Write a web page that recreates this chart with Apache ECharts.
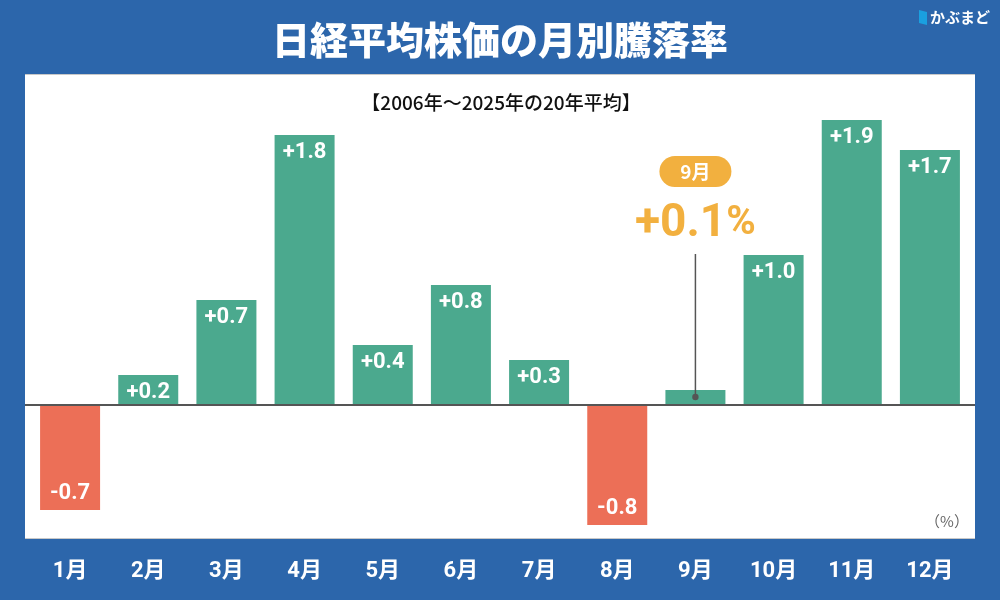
<!DOCTYPE html>
<html><head><meta charset="utf-8">
<script src="https://cdn.jsdelivr.net/npm/echarts@6/dist/echarts.min.js"></script>
<style>html,body{margin:0;padding:0;background:#2c66ab;}#c{width:1000px;height:600px;}</style>
</head><body><div id="c"></div>
<script>
const months = ['1月','2月','3月','4月','5月','6月','7月','8月','9月','10月','11月','12月'];
const returns = [-0.7, 0.2, 0.7, 1.8, 0.4, 0.8, 0.3, -0.8, 0.1, 1.0, 1.9, 1.7];
const highlightIndex = 8;
const titleText = '日経平均株価の月別騰落率';
const subtitleText = '【2006年～2025年の20年平均】';
const unitText = '（%）';
const brandText = 'かぶまど';

const BLUE = '#2c66ab', GREEN = '#4ba98e', RED = '#ec6f57', ORANGE = '#f2b03f';
const JP = '"Noto Sans CJK JP", "Noto Sans", sans-serif';
const fmt = v => (v > 0 ? '+' : '') + v.toFixed(1);

const chart = echarts.init(document.getElementById('c'));
chart.setOption({
  backgroundColor: BLUE,
  animation: false,
  grid: { left: 31, right: 31, top: 105, bottom: 60 },
  xAxis: {
    type: 'category', data: months,
    axisLine: { show: false }, axisTick: { show: false },
    axisLabel: { color: '#fff', fontSize: 22, fontWeight: 'bold', fontFamily: 'Roboto, ' + JP, margin: 20 }
  },
  yAxis: { type: 'value', min: -0.9, max: 2.0, show: false, splitLine: { show: false } },
  series: [{
    type: 'bar', barWidth: 60, z: 3,
    data: returns.map((v, i) => ({
      value: v,
      itemStyle: { color: v < 0 ? RED : GREEN },
      label: {
        show: i !== highlightIndex,
        position: v < 0 ? 'insideBottom' : 'insideTop',
        distance: 6,
        formatter: fmt(v),
        color: '#fff', fontSize: 22, fontWeight: 'bold', fontFamily: 'Roboto, sans-serif'
      }
    }))
  }]
});

function layout() {
  const zeroY = chart.convertToPixel({ yAxisIndex: 0 }, 0);
  const hp = chart.convertToPixel({ seriesIndex: 0 }, [highlightIndex, returns[highlightIndex]]);
  chart.setOption({
    graphic: [
      { type: 'rect', z: -10, silent: true, shape: { x: 25, y: 74, width: 950, height: 465 },
        style: { fill: '#fff' } },
      { type: 'line', z: -9, shape: { x1: 25, y1: 74.5, x2: 975, y2: 74.5 }, style: { stroke: '#c8c8c8', lineWidth: 1 } },
      { type: 'line', z: -9, shape: { x1: 25, y1: 538.5, x2: 975, y2: 538.5 }, style: { stroke: '#c8c8c8', lineWidth: 1 } },
      { type: 'line', z: 10, shape: { x1: 25, y1: zeroY, x2: 975, y2: zeroY }, style: { stroke: '#555', lineWidth: 2 } },
      { type: 'text', z: 10, x: 500, y: 40, style: { text: titleText, fill: '#fff', font: '900 38px ' + JP, align: 'center', verticalAlign: 'middle' } },
      { type: 'text', z: 10, x: 501, y: 103, style: { text: subtitleText, fill: '#111', font: '500 19px ' + JP, align: 'center', verticalAlign: 'middle' } },
      { type: 'text', z: 10, x: 947, y: 521, style: { text: unitText, fill: '#666', font: '15px ' + JP, align: 'center', verticalAlign: 'middle' } },
      { type: 'polygon', z: 10, shape: { points: [[919, 10], [927, 12], [927, 25], [919, 23]] }, style: { fill: '#1aa0e0' } },
      { type: 'text', z: 10, x: 930, y: 17, style: { text: brandText, fill: '#fff', font: 'bold 15px ' + JP, align: 'left', verticalAlign: 'middle' } },
      { type: 'line', z: 10, shape: { x1: hp[0], y1: 254, x2: hp[0], y2: hp[1] + 7 }, style: { stroke: '#555', lineWidth: 1.5 } },
      { type: 'circle', z: 10, shape: { cx: hp[0], cy: hp[1] + 7, r: 3.2 }, style: { fill: '#555' } },
      { type: 'rect', z: 10, shape: { x: hp[0] - 36, y: 156, width: 72, height: 31, r: 15.5 }, style: { fill: ORANGE } },
      { type: 'text', z: 11, x: hp[0], y: 172, style: { text: months[highlightIndex], fill: '#fff', font: 'bold 19px ' + JP, align: 'center', verticalAlign: 'middle' } },
      { type: 'text', z: 11, x: hp[0], y: 224, style: {
          rich: { n: { fontSize: 46, fontWeight: 'bold', fontFamily: 'Roboto, sans-serif', fill: ORANGE },
                  p: { fontSize: 40, fontWeight: 'bold', fontFamily: 'Roboto, sans-serif', fill: ORANGE } },
          text: '{n|' + fmt(returns[highlightIndex]) + '}{p|%}', align: 'center', verticalAlign: 'middle' } }
    ]
  });
}
layout();
</script></body></html>
